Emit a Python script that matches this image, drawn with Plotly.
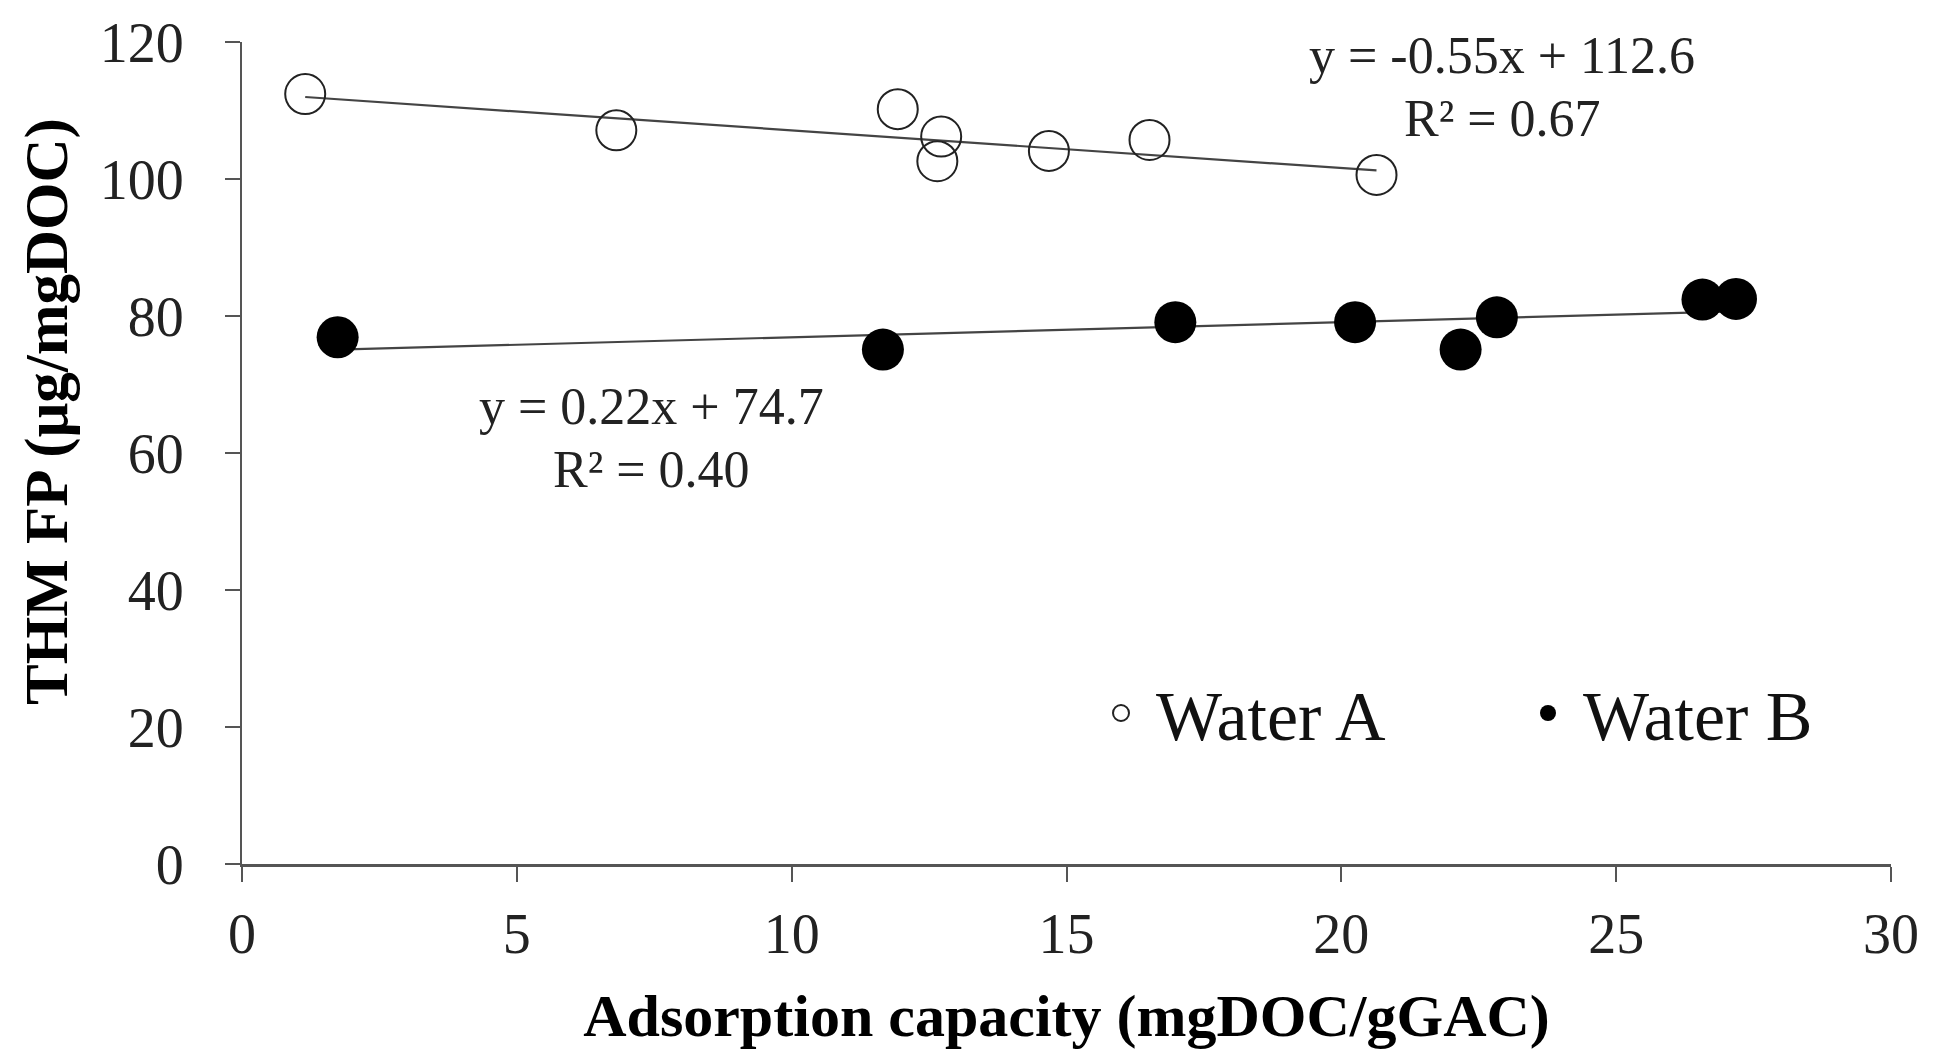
import plotly.graph_objects as go

# Data
water_a_x = [1.15, 6.81, 11.93, 12.72, 12.65, 14.68, 16.51, 20.64]
water_a_y = [112.4, 107.1, 110.2, 106.2, 102.6, 104.1, 105.7, 100.6]
water_b_x = [1.74, 11.66, 16.98, 20.25, 22.17, 22.83, 26.57, 27.18]
water_b_y = [76.9, 75.1, 79.1, 79.1, 75.1, 79.8, 82.4, 82.5]

# Linear trend coefficients as printed on the chart
trend_a = (-0.55, 112.6)
trend_b = (0.22, 74.7)
eq_a = ["y = -0.55x + 112.6", "R² = 0.67"]
eq_b = ["y = 0.22x + 74.7", "R² = 0.40"]

x_ticks = [0, 5, 10, 15, 20, 25, 30]
y_ticks = [0, 20, 40, 60, 80, 100, 120]

FONT = "Liberation Serif"
AXC = "#555555"

W, H = 1944, 1061
ML, MR, MT, MB = 242, 53, 42, 197
PW, PH = W - ML - MR, H - MT - MB


def px_x(p):
    return (p - ML) / PW


def px_y(p):
    return (H - MB - p) / PH


def trend(xs, coef):
    lo, hi = min(xs), max(xs)
    return [lo, hi], [coef[0] * lo + coef[1], coef[0] * hi + coef[1]]


fig = go.Figure()

tax, tay = trend(water_a_x, trend_a)
tbx, tby = trend(water_b_x, trend_b)
fig.add_trace(go.Scatter(x=tax, y=tay, mode="lines", showlegend=False,
                         line=dict(color="#444444", width=2.2), hoverinfo="skip"))
fig.add_trace(go.Scatter(x=tbx, y=tby, mode="lines", showlegend=False,
                         line=dict(color="#444444", width=2.2), hoverinfo="skip"))

fig.add_trace(go.Scatter(
    x=water_a_x, y=water_a_y, mode="markers", name="Water A", legend="legend",
    marker=dict(symbol="circle-open", size=40, color="#222222",
                line=dict(width=2, color="#222222"))))
fig.add_trace(go.Scatter(
    x=water_b_x, y=water_b_y, mode="markers", name="Water B", legend="legend2",
    marker=dict(symbol="circle", size=42, color="#000000",
                line=dict(width=0))))

ann_font = dict(family=FONT, size=52, color="#222222")
for text, (cx, cy) in zip(eq_a, [(1502, 56), (1502, 118)]):
    fig.add_annotation(x=px_x(cx), y=px_y(cy), xref="paper", yref="paper",
                       text=text, showarrow=False, font=ann_font,
                       xanchor="center", yanchor="middle")
for text, (cx, cy) in zip(eq_b, [(651, 407), (651, 469)]):
    fig.add_annotation(x=px_x(cx), y=px_y(cy), xref="paper", yref="paper",
                       text=text, showarrow=False, font=ann_font,
                       xanchor="center", yanchor="middle")

# Y-axis title as rotated annotation (placed as in the reference)
fig.add_annotation(x=px_x(47), y=px_y(412), xref="paper", yref="paper",
                   text="<b>THM FP (μg/mgDOC)</b>", showarrow=False,
                   textangle=-90, xanchor="center", yanchor="middle",
                   font=dict(family=FONT, size=61, color="#000000"))

leg_common = dict(orientation="h", yanchor="middle", xanchor="left",
                  font=dict(family=FONT, size=70, color="#111111"),
                  bgcolor="rgba(0,0,0,0)", itemsizing="trace", itemwidth=60)

fig.update_layout(
    width=W, height=H,
    margin=dict(l=ML, r=MR, t=MT, b=MB),
    paper_bgcolor="white", plot_bgcolor="white",
    font=dict(family=FONT, color="#222222"),
    showlegend=True,
    legend=dict(x=px_x(1086), y=px_y(713), **leg_common),
    legend2=dict(x=px_x(1513), y=px_y(713), **leg_common),
    xaxis=dict(range=[0, 30], tickvals=x_ticks, ticktext=[str(v) for v in x_ticks],
               showgrid=False, zeroline=False, showline=True, linecolor=AXC,
               linewidth=3, ticks="outside", ticklen=15, tickwidth=2, tickcolor=AXC,
               tickfont=dict(family=FONT, size=56, color="#222222"),
               ticklabelstandoff=4,
               title=dict(text="<b>Adsorption capacity (mgDOC/gGAC)</b>",
                          font=dict(family=FONT, size=60, color="#000000"),
                          standoff=30)),
    yaxis=dict(range=[0, 120], tickvals=y_ticks, ticktext=[str(v) for v in y_ticks],
               showgrid=False, zeroline=False, showline=True, linecolor=AXC,
               linewidth=2, ticks="outside", ticklen=15, tickwidth=2, tickcolor=AXC,
               tickfont=dict(family=FONT, size=56, color="#222222"),
               ticklabelstandoff=30),
)

fig.write_html("out.html")
